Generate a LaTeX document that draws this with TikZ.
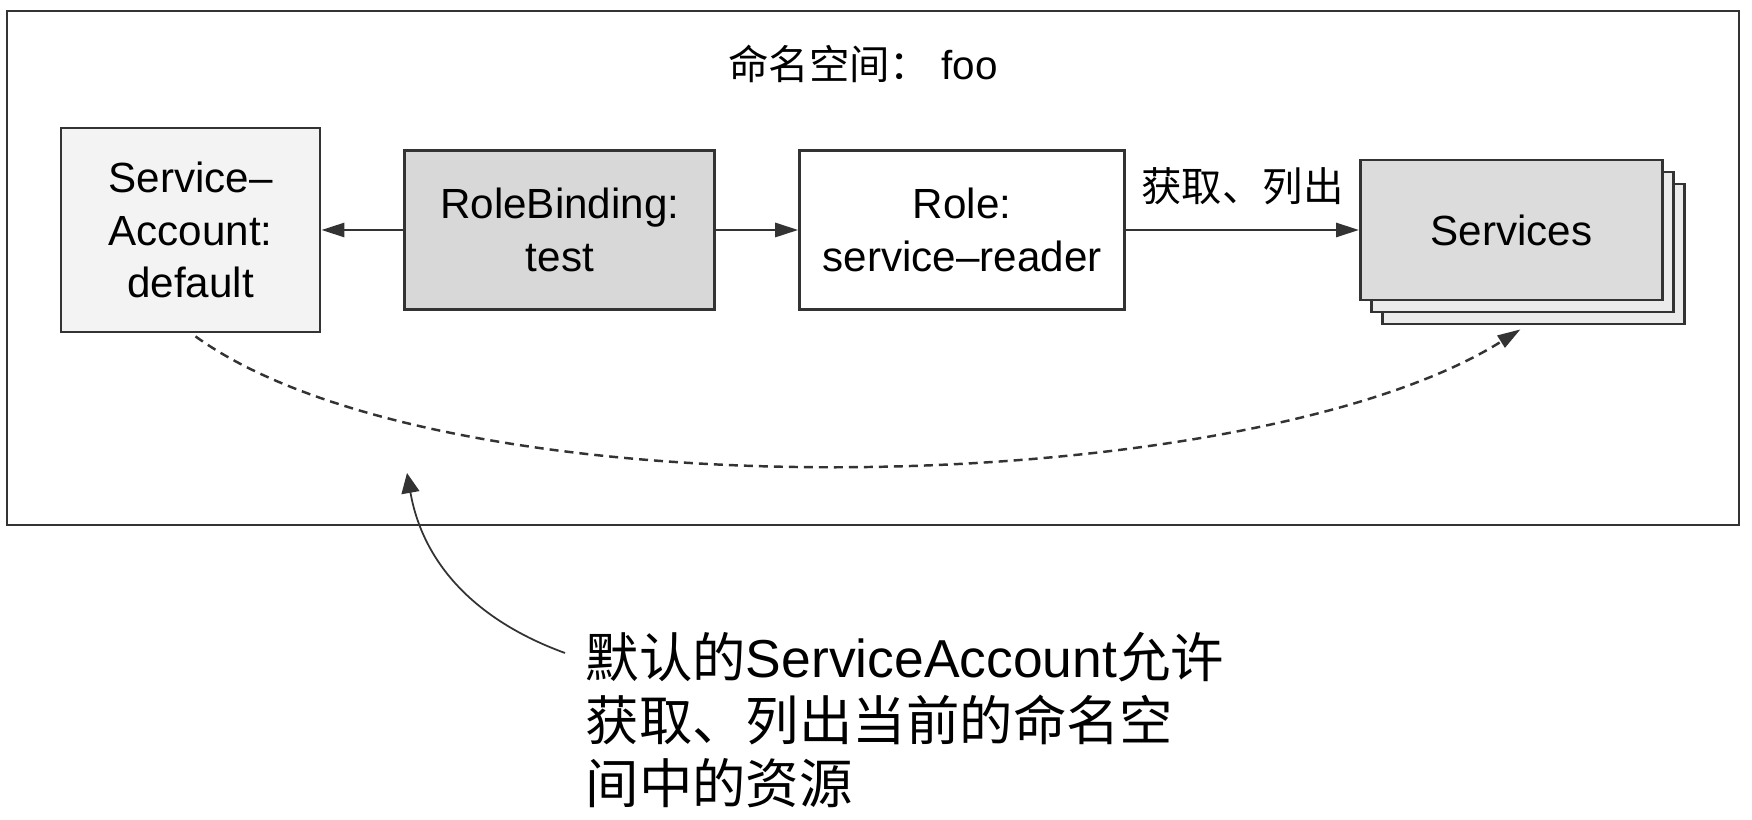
\documentclass[tikz,border=0pt]{standalone}
\usepackage{fontspec}
\setmainfont{Liberation Sans}
\newfontfamily\cjk{Noto Sans CJK SC}
\usepackage{xcolor}
\usetikzlibrary{arrows.meta,positioning,shadows}
\definecolor{ink}{HTML}{333333}
\definecolor{paper}{HTML}{F3F3F3}
\definecolor{bind}{HTML}{D8D8D8}
\definecolor{res}{HTML}{DCDCDC}
\definecolor{resback}{HTML}{EBEBEB}

\begin{document}
\begin{tikzpicture}[
  node distance=8.2mm and 8.2mm,
  box/.style={draw=ink, line width=0.8pt, fill=white, minimum height=15.9mm, align=center, inner sep=2pt, font=\fontsize{12pt}{15pt}\selectfont},
  arr/.style={-{Triangle[length=2.3mm,width=1.4mm]}, draw=ink, line width=0.8pt},
  lbl/.style={font=\fontsize{11.5pt}{14pt}\selectfont, inner sep=0pt},
  note/.style={font=\fontsize{15.2pt}{18pt}\selectfont, align=left, inner sep=0pt}
]
\useasboundingbox (0,0) rectangle (17.52,8.2);
\node[draw=ink, line width=0.8pt, minimum width=173.2mm, minimum height=51.4mm] (ns) at (8.73,5.52) {};
\node[lbl] (title) at (8.63,7.56) {{\cjk 命名空间：} foo};
\node[box, fill=paper, minimum width=25.9mm, minimum height=20.4mm] (sa) at (1.905,5.90) {Service--\\Account:\\default};
\node[box, fill=bind, minimum width=31mm, right=of sa] (rb) {RoleBinding:\\test};
\node[box, minimum width=32.5mm, right=of rb] (role) {Role:\\service--reader};
\node[box, fill=res, minimum width=30.2mm, minimum height=14mm, right=23.3mm of role,
  copy shadow={shadow xshift=2.2mm, shadow yshift=-2.4mm, fill=resback, draw=ink, line width=0.8pt},
  copy shadow={shadow xshift=1.1mm, shadow yshift=-1.2mm, fill=resback, draw=ink, line width=0.8pt}] (svc) {Services};
\draw[arr] (rb) -- (sa); \draw[arr] (rb) -- (role);
\draw[arr] (role) -- node[lbl, above=2.4mm] (verbs) {\cjk 获取、列出} (svc);
\draw[arr, line width=0.7pt, dash pattern=on 0.9mm off 0.6mm] ([shift={(0.5mm,-0.3mm)}]sa.south) .. controls (4.5,3.0) and (12.5,3.2) .. ([shift={(0.9mm,-2.8mm)}]svc.south);
\node[note, anchor=west] (note) at (5.85,1.0) {{\cjk 默认的}ServiceAccount{\cjk 允许}\\{\cjk 获取、列出当前的命名空}\\{\cjk 间中的资源}};
\coordinate (tip) at (4.07,3.47);
\draw[-{Triangle[length=2mm,width=1.8mm]}, draw=ink, line width=0.5pt] ([shift={(-2mm,6.7mm)}]note.west) to[out=160, in=-80] (tip);
\end{tikzpicture}
\end{document}
